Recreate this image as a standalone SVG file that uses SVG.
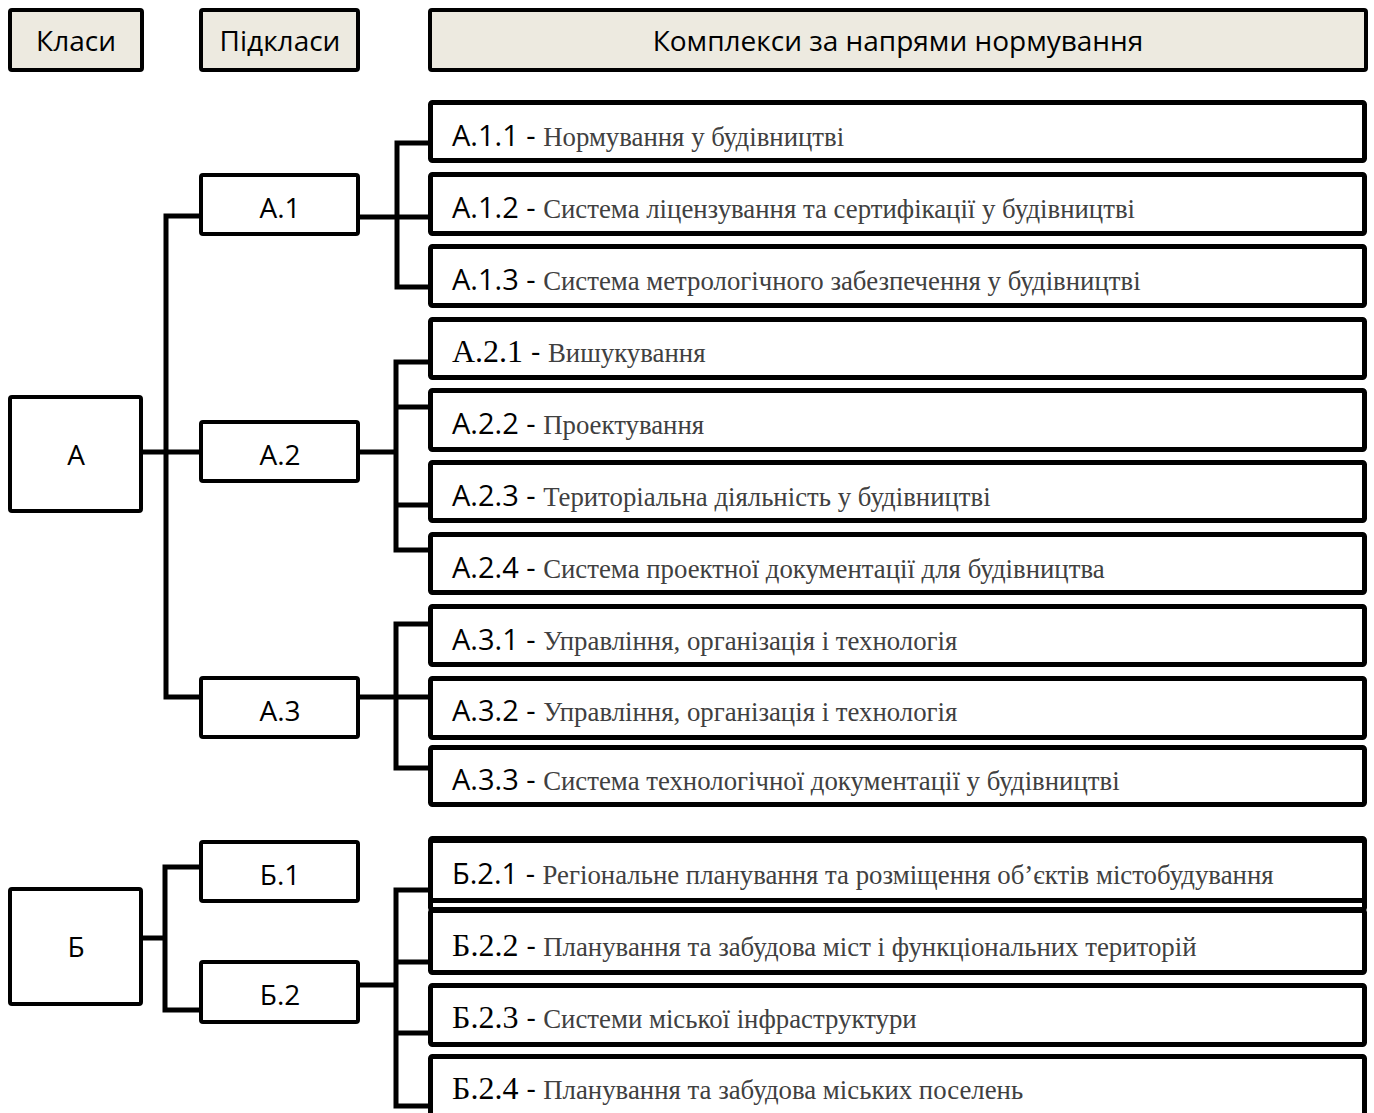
<svg xmlns="http://www.w3.org/2000/svg" width="1374" height="1113" viewBox="0 0 1374 1113">
<style>
.hdr{fill:#EDEAE0;stroke:#000;stroke-width:4}
.nd{fill:#fff;stroke:#000;stroke-width:4}
.bx{fill:#fff;stroke:#000;stroke-width:5}
.lbl{font-family:"Open Sans","Liberation Sans",sans-serif;font-size:28px;fill:#000;text-anchor:middle}
.code{font-family:"Open Sans","Liberation Sans",sans-serif;font-size:29px;fill:#000}
.scode{font-family:"Liberation Serif",serif;font-size:32px;fill:#000}
.desc{font-family:"Liberation Serif",serif;font-size:26.8px;fill:#404040}
.conn{stroke:#000;stroke-width:5;fill:none}
</style>
<rect width="1374" height="1113" fill="#fff"/>
<g id="connectors">
<path class="conn" d="M143,452 H199 M199,216 H166 V697 H199"/>
<path class="conn" d="M360,217 H428 M428,143 H397 V287 H428"/>
<path class="conn" d="M360,452 H396 M428,362 H396 V550 H428 M396,407 H428 M396,505 H428"/>
<path class="conn" d="M360,697 H428 M428,624 H396 V768 H428"/>
<path class="conn" d="M143,938 H165 M199,867 H165 V1010 H199"/>
<path class="conn" d="M360,985 H396 M428,890 H396 V1106 H428 M396,962 H428 M396,1033 H428"/>
</g>
<g id="hdr-klasy"><rect class="hdr" x="10" y="10" width="132" height="60" rx="2"/><text class="lbl" x="76" y="51">Класи</text></g>
<g id="hdr-pidklasy"><rect class="hdr" x="201" y="10" width="157" height="60" rx="2"/><text class="lbl" x="280" y="51">Підкласи</text></g>
<g id="hdr-kompleksy"><rect class="hdr" x="430" y="10" width="936" height="60" rx="2"/><text class="lbl" x="898" y="51">Комплекси за напрями нормування</text></g>
<g id="A"><rect class="nd" x="10" y="397" width="131" height="114" rx="2"/><text class="lbl" x="76" y="465">А</text></g>
<g id="A1"><rect class="nd" x="201" y="175" width="157" height="59" rx="2"/><text class="lbl" x="280" y="218">А.1</text></g>
<g id="A2"><rect class="nd" x="201" y="422" width="157" height="59" rx="2"/><text class="lbl" x="280" y="465">А.2</text></g>
<g id="A3"><rect class="nd" x="201" y="678" width="157" height="59" rx="2"/><text class="lbl" x="280" y="721">А.3</text></g>
<g id="B"><rect class="nd" x="10" y="889" width="131" height="115" rx="2"/><text class="lbl" x="76" y="957">Б</text></g>
<g id="B1"><rect class="nd" x="201" y="842" width="157" height="59" rx="2"/><text class="lbl" x="280" y="885">Б.1</text></g>
<g id="B2"><rect class="nd" x="201" y="962" width="157" height="60" rx="2"/><text class="lbl" x="280" y="1005">Б.2</text></g>
<g id="A11"><rect class="bx" x="430.5" y="102.5" width="934" height="58" rx="2"/><text x="452" y="146"><tspan class="code">А.1.1 - </tspan><tspan class="desc">Нормування у будівництві</tspan></text></g>
<g id="A12"><rect class="bx" x="430.5" y="174.5" width="934" height="59" rx="2"/><text x="452" y="218"><tspan class="code">А.1.2 - </tspan><tspan class="desc">Система ліцензування та сертифікації у будівництві</tspan></text></g>
<g id="A13"><rect class="bx" x="430.5" y="246.5" width="934" height="59" rx="2"/><text x="452" y="290"><tspan class="code">А.1.3 - </tspan><tspan class="desc">Система метрологічного забезпечення у будівництві</tspan></text></g>
<g id="A21"><rect class="bx" x="430.5" y="319.5" width="934" height="58" rx="2"/><text x="452" y="362"><tspan class="scode">А.2.1 </tspan><tspan class="code">- </tspan><tspan class="desc">Вишукування</tspan></text></g>
<g id="A22"><rect class="bx" x="430.5" y="390.5" width="934" height="59" rx="2"/><text x="452" y="434"><tspan class="code">А.2.2 - </tspan><tspan class="desc">Проектування</tspan></text></g>
<g id="A23"><rect class="bx" x="430.5" y="462.5" width="934" height="58" rx="2"/><text x="452" y="506"><tspan class="code">А.2.3 - </tspan><tspan class="desc">Територіальна діяльність у будівництві</tspan></text></g>
<g id="A24"><rect class="bx" x="430.5" y="534.5" width="934" height="58" rx="2"/><text x="452" y="578"><tspan class="code">А.2.4 - </tspan><tspan class="desc">Система проектної документації для будівництва</tspan></text></g>
<g id="A31"><rect class="bx" x="430.5" y="606.5" width="934" height="58" rx="2"/><text x="452" y="650"><tspan class="code">А.3.1 - </tspan><tspan class="desc">Управління, організація і технологія</tspan></text></g>
<g id="A32"><rect class="bx" x="430.5" y="678.5" width="934" height="59" rx="2"/><text x="452" y="721"><tspan class="code">А.3.2 - </tspan><tspan class="desc">Управління, організація і технологія</tspan></text></g>
<g id="A33"><rect class="bx" x="430.5" y="747.5" width="934" height="57" rx="2"/><text x="452" y="790"><tspan class="code">А.3.3 - </tspan><tspan class="desc">Система технологічної документації у будівництві</tspan></text></g>
<g id="B2-hidden"><rect class="bx" x="430.5" y="838.5" width="934" height="71" rx="2"/></g>
<g id="B21"><rect class="bx" x="430.5" y="840.5" width="934" height="60" rx="2"/><text x="452" y="884"><tspan class="code">Б.2.1 - </tspan><tspan class="desc">Регіональне планування та розміщення об’єктів містобудування</tspan></text></g>
<g id="B22"><rect class="bx" x="430.5" y="910.5" width="934" height="62" rx="2"/><text x="452" y="956"><tspan class="scode">Б.2.2 </tspan><tspan class="code">- </tspan><tspan class="desc">Планування та забудова міст і функціональних територій</tspan></text></g>
<g id="B23"><rect class="bx" x="430.5" y="985.5" width="934" height="59" rx="2"/><text x="452" y="1028"><tspan class="scode">Б.2.3 </tspan><tspan class="code">- </tspan><tspan class="desc">Системи міської інфраструктури</tspan></text></g>
<g id="B24"><rect class="bx" x="430.5" y="1056.5" width="934" height="70" rx="2"/><text x="452" y="1099"><tspan class="scode">Б.2.4 </tspan><tspan class="code">- </tspan><tspan class="desc">Планування та забудова міських поселень</tspan></text></g>
</svg>
